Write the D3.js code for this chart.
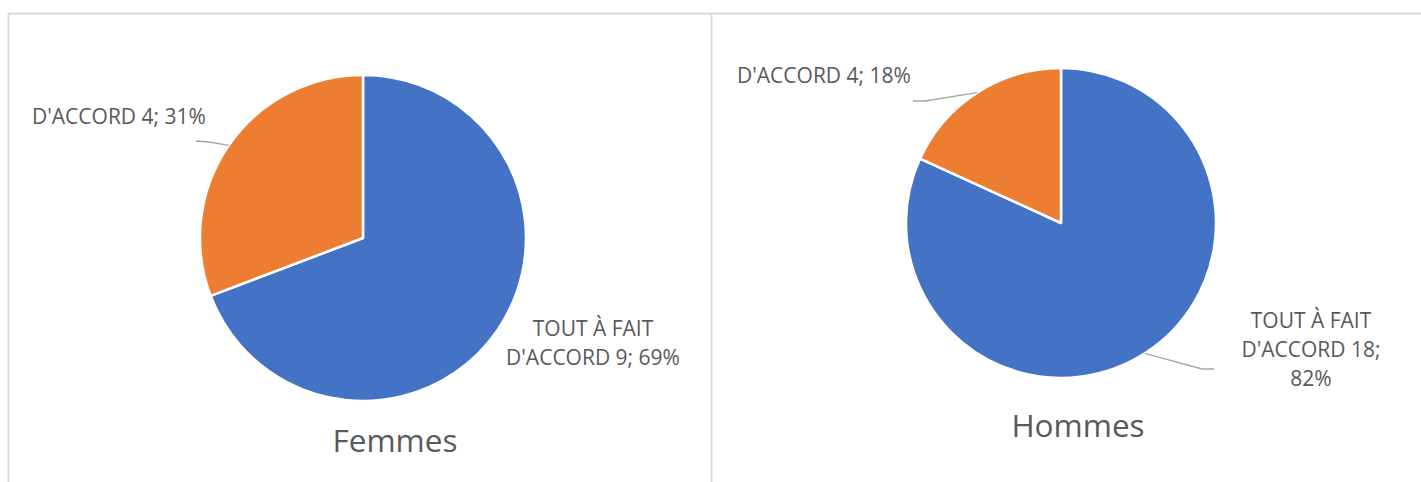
<!DOCTYPE html>
<html><head><meta charset="utf-8">
<script src="https://cdnjs.cloudflare.com/ajax/libs/d3/7.8.5/d3.min.js"></script>
<style>body{margin:0;background:#fff;} svg{display:block;}</style>
</head><body>
<svg id="c" width="1421" height="482"></svg>
<script>
const categories = ["TOUT À FAIT D'ACCORD", "D'ACCORD"];
const femmesValues = [9, 4];
const hommesValues = [18, 4];
const chartTitles = ["Femmes", "Hommes"];
const colors = ["#4472C4", "#ED7D31"];

const svg = d3.select("#c");
const grid = "#d9d9d9";
svg.append("line").attr("x1",8).attr("x2",1421).attr("y1",13.5).attr("y2",13.5).attr("stroke",grid).attr("stroke-width",2);
svg.append("line").attr("x1",8.5).attr("x2",8.5).attr("y1",13).attr("y2",482).attr("stroke",grid).attr("stroke-width",2);
svg.append("line").attr("x1",711.5).attr("x2",711.5).attr("y1",13).attr("y2",482).attr("stroke",grid).attr("stroke-width",2);

const font = "'Open Sans', sans-serif";
const txt = "#595959";

const charts = [
  {values: femmesValues, title: chartTitles[0], cx: 363, cy: 238, r: 163, tx: 395, ty: 452,
   labels: [
     {lines: ["TOUT À FAIT", "D'ACCORD 9; 69%"], x: 593, y: 336, anchor: "middle", leader: null},
     {lines: ["D'ACCORD 4; 31%"], x: 32, y: 124, anchor: "start", leader: [[196,141],[209,142]]}
   ]},
  {values: hommesValues, title: chartTitles[1], cx: 1061, cy: 223, r: 155, tx: 1078, ty: 437,
   labels: [
     {lines: ["TOUT À FAIT", "D'ACCORD 18;", "82%"], x: 1311, y: 328, anchor: "middle", leader: [[1214,369],[1202,369]]},
     {lines: ["D'ACCORD 4; 18%"], x: 737, y: 83, anchor: "start", leader: [[913,101],[925,101]]}
   ]}
];

const pie = d3.pie().sort(null).value(d => d);

charts.forEach(ch => {
  const g = svg.append("g").attr("transform", `translate(${ch.cx},${ch.cy})`);
  const arcs = pie(ch.values);
  const arc = d3.arc().innerRadius(0).outerRadius(ch.r);
  g.selectAll("path").data(arcs).join("path")
    .attr("d", arc).attr("fill", (d,i) => colors[i])
    .attr("stroke", "#fff").attr("stroke-width", 2.5).attr("stroke-linejoin","round");

  ch.labels.forEach((lb, i) => {
    if (lb.leader) {
      const a = arcs[i];
      const mid = (a.startAngle + a.endAngle) / 2;
      const px = ch.cx + Math.sin(mid) * ch.r, py = ch.cy - Math.cos(mid) * ch.r;
      const pts = [lb.leader[0], lb.leader[1], [px, py]];
      svg.append("path").attr("d", d3.line()(pts)).attr("fill","none")
        .attr("stroke","#a6a6a6").attr("stroke-width",1.3);
    }
    const t = svg.append("text").attr("font-family", font).attr("font-size", 21)
      .attr("fill", txt).attr("text-anchor", lb.anchor);
    lb.lines.forEach((l, k) => {
      t.append("tspan").attr("x", lb.x).attr("y", lb.y + k * 28.8).text(l);
    });
  });

  svg.append("text").attr("x", ch.tx).attr("y", ch.ty).attr("text-anchor","middle")
    .attr("font-family", font).attr("font-size", 31.5).attr("fill", txt).text(ch.title);
});
</script>
</body></html>
